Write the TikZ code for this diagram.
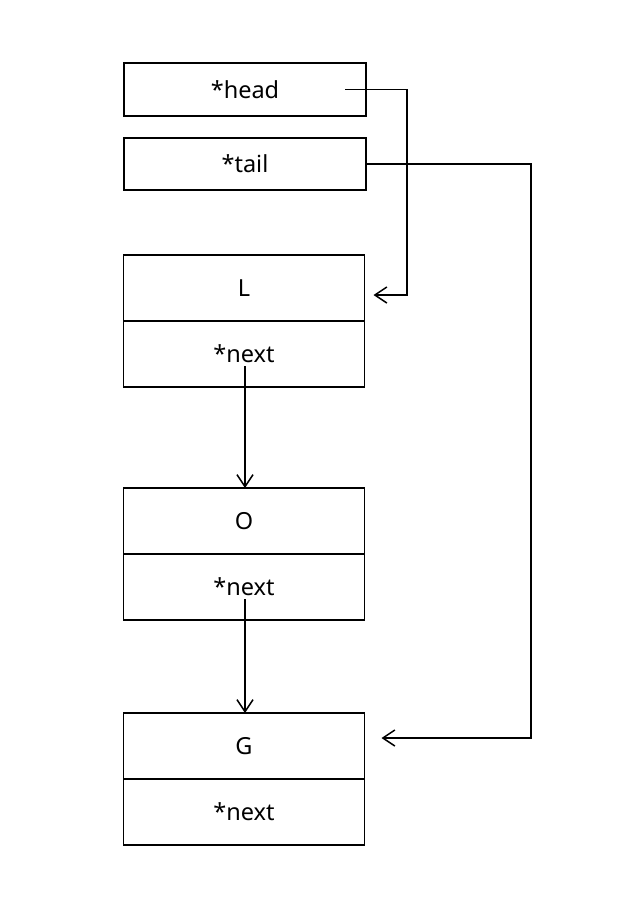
\documentclass[tikz,border=0pt]{standalone}
\usepackage{fontspec}
\setmainfont{Noto Sans}
\usetikzlibrary{arrows.meta,positioning}

\tikzset{
  ptrbox/.style={draw,line width=1.2pt,minimum width=242pt,minimum height=53pt,outer sep=0pt,inner sep=0pt},
  cell/.style={draw,line width=1.2pt,minimum width=241pt,minimum height=66pt,outer sep=0pt,inner sep=0pt},
  ptr/.style={line width=1.5pt,-{Straight Barb[length=12pt,width=16pt,line width=1.5pt]}}
}

\begin{document}
\begin{tikzpicture}[x=1pt,y=-1pt,font=\fontsize{23.5}{28}\selectfont]
\useasboundingbox (0,0) rectangle (626,918);
% pointers
\node[ptrbox] (head) at (245,89.5) {*head};
\node[ptrbox,minimum height=52pt] (tail) at (245,164) {*tail};
% list nodes
\node[cell] (Lval) at (244,288) {L};
\node[cell,below=0pt of Lval] (Lnext) {*next};
\node[cell] (Oval) at (244,521) {O};
\node[cell,below=0pt of Oval] (Onext) {*next};
\node[cell] (Gval) at (244,746) {G};
\node[cell,below=0pt of Gval] (Gnext) {*next};
% links
\draw[ptr] ([xshift=-21pt]head.east) -- ++(62,0) |- ([shift={(9pt,-7pt)}]Lval.east);
\draw[ptr] (tail.east) -- ++(165,0) |- ([shift={(17pt,8pt)}]Gval.east);
\draw[ptr] ([xshift=1pt,yshift=21pt]Lnext.south) -- ([xshift=1pt]Oval.north);
\draw[ptr] ([xshift=1pt,yshift=21pt]Onext.south) -- ([xshift=1pt]Gval.north);
\end{tikzpicture}
\end{document}
